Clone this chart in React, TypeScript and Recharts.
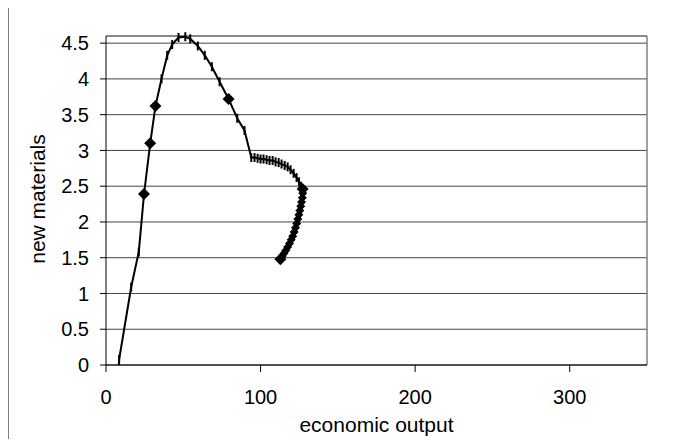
import React from 'react';
import { ScatterChart, Scatter, XAxis, YAxis, CartesianGrid, ReferenceLine } from 'recharts';

// path of the series, in drawing order
const xValues = [
  8.3, 8.5, 16.3, 21.2, 24.6, 28.6, 32.0, 35.9, 39.6, 42.8, 46.9, 51.3, 54.5, 59.4, 63.9, 68.5,
  73.5, 79.3, 84.9, 89.6, 94.0, 96.1, 98.1, 100.0, 101.9, 103.9, 105.8, 107.8, 109.7, 111.7,
  113.6, 115.6, 117.5, 119.4, 121.4, 123.3, 124.9, 126.2, 127.2, 127.3, 127.0, 126.5, 126.0,
  125.4, 124.8, 124.1, 123.4, 122.6, 121.7, 120.8, 119.8, 118.7, 117.5, 116.3, 115.1, 113.9, 112.8,
];
const yValues = [
  0.0, 0.08, 1.09, 1.58, 2.39, 3.1, 3.62, 4.0, 4.33, 4.48, 4.58, 4.59, 4.56, 4.46, 4.33, 4.17,
  3.96, 3.72, 3.45, 3.28, 2.9, 2.9, 2.89, 2.88, 2.88, 2.87, 2.86, 2.86, 2.84, 2.83,
  2.81, 2.79, 2.77, 2.73, 2.68, 2.62, 2.56, 2.5, 2.46, 2.4, 2.34, 2.28, 2.22,
  2.16, 2.1, 2.04, 1.98, 1.92, 1.86, 1.8, 1.75, 1.7, 1.65, 1.6, 1.56, 1.52, 1.48,
];
// n = no marker, v = dash, d = diamond, s = small diamond
const markerKinds = [
  'n', 'v', 'v', 'v', 'd', 'd', 'd', 'v', 'v', 'v', 'v', 'v', 'v', 'v', 'v', 'v',
  'v', 'd', 'v', 'v', 'v', 'v', 'v', 'v', 'v', 'v', 'v', 'v', 'v', 'v',
  'v', 'v', 'v', 'v', 'v', 'v', 'v', 'v', 'd', 's', 's', 's', 's',
  's', 's', 's', 's', 's', 's', 's', 's', 's', 's', 's', 's', 's', 'd',
];

const xTicks = [0, 100, 200, 300];
const yTicks = [0, 0.5, 1, 1.5, 2, 2.5, 3, 3.5, 4, 4.5];

const data = xValues.map((x, i) => ({ x, y: yValues[i], kind: markerKinds[i] }));

const font = '"Liberation Sans", Arial, sans-serif';

const PointMark = (props: any) => {
  const { cx, cy, payload } = props;
  if (cx == null || cy == null) return <g />;
  const kind = payload && payload.kind;
  if (kind === 'd' || kind === 's') {
    const r = kind === 'd' ? 6 : 4.5;
    return <path d={`M${cx},${cy - r}L${cx + r},${cy}L${cx},${cy + r}L${cx - r},${cy}Z`} fill="#000" />;
  }
  if (kind === 'v') return <rect x={cx - 1} y={cy - 4.5} width={2} height={9} fill="#000" />;
  return <g />;
};

const App: React.FC = () => {
  return (
    <div style={{ position: 'relative', width: 673, height: 447, margin: -8, background: '#fff' }}>
      <div style={{ position: 'absolute', left: 0, top: 0 }}>
        <ScatterChart width={673} height={447} margin={{ top: 36, right: 26, bottom: 12, left: 46 }}>
          <CartesianGrid vertical={false} stroke="#444" strokeWidth={1} />
          <XAxis
            type="number" dataKey="x" domain={[0, 350]} ticks={xTicks} interval={0}
            height={70} tickSize={7} tickMargin={18}
            axisLine={{ stroke: '#000' }} tickLine={{ stroke: '#000' }}
            tick={{ fill: '#000', fontSize: 20, fontFamily: font }}
            label={{
              content: ({ viewBox }: any) => (
                <g>
                  {/* outer chart frame */}
                  <rect x={7.5} y={4.5} width={664} height={438} fill="none" stroke="#000" strokeWidth={2} />
                  <text x={viewBox.x + viewBox.width / 2} y={viewBox.y + 67} textAnchor="middle"
                    fill="#000" fontSize={21} fontFamily={font}>economic output</text>
                </g>
              ),
            }}
          />
          <YAxis
            type="number" dataKey="y" domain={[0, 4.6]} ticks={yTicks} interval={0}
            width={60} tickSize={6} tickMargin={11}
            axisLine={{ stroke: '#000' }} tickLine={{ stroke: '#000' }}
            tick={{ fill: '#000', fontSize: 20, fontFamily: font }}
            label={{
              content: ({ viewBox }: any) => {
                const lx = viewBox.x - 8;
                const ly = viewBox.y + viewBox.height / 2 - 1.5;
                return (
                  <text x={lx} y={ly} dy="0.355em" textAnchor="middle" transform={`rotate(-90 ${lx} ${ly})`}
                    fill="#000" fontSize={21} fontFamily={font}>new materials</text>
                );
              },
            }}
          />
          <ReferenceLine y={4.6} stroke="#808080" strokeWidth={1.5} />
          <ReferenceLine x={350} stroke="#808080" strokeWidth={1.5} />
          <Scatter
            data={data} fill="#000" line={{ stroke: '#000', strokeWidth: 2 }} lineType="joint"
            shape={PointMark} isAnimationActive={false}
          />
        </ScatterChart>
      </div>
    </div>
  );
};

export default App;
